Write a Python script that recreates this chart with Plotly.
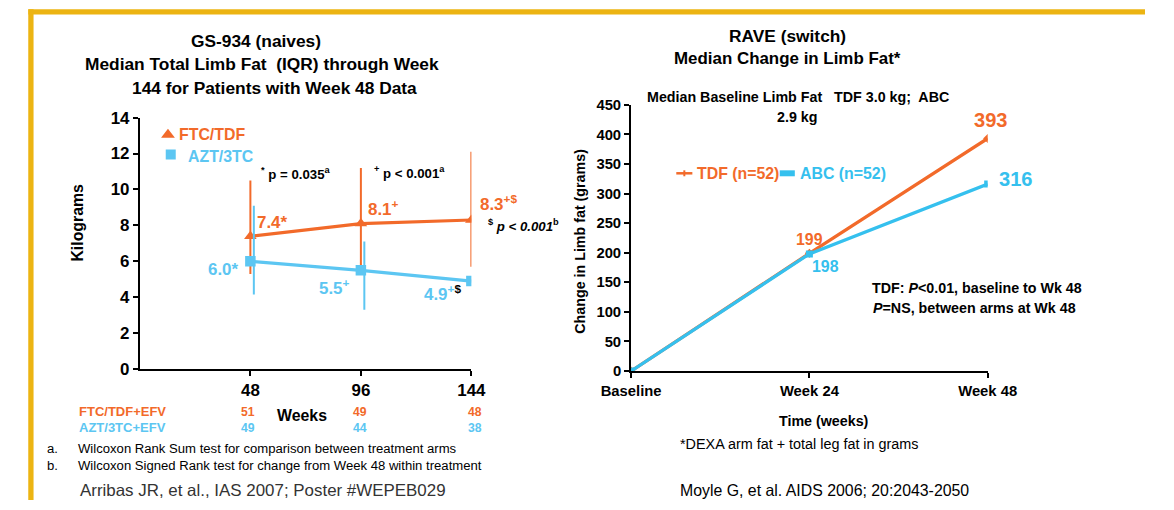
import plotly.graph_objects as go

# ---------------- data ----------------
weeks = [48, 96, 144]
ftc_tdf = [7.4, 8.1, 8.3]
ftc_tdf_q1 = [5.3, 5.25, 5.7]
ftc_tdf_q3 = [10.5, 11.2, 12.1]
azt_3tc = [6.0, 5.5, 4.9]
azt_3tc_q1 = [4.15, 3.3, 3.15]
azt_3tc_q3 = [9.1, 7.1, 7.85]
n_ftc = [51, 49, 48]
n_azt = [49, 44, 38]
left_value_labels_ftc = ["7.4*", "8.1<sup>+</sup>", "8.3<sup>+$</sup>"]
left_value_labels_azt = ["6.0*", "5.5<sup>+</sup>", "4.9<sup>+</sup>"]

rave_cats = ["Baseline", "Week 24", "Week 48"]
tdf = [0, 199, 393]
abc = [0, 198, 316]

W, H = 1174, 510
ORANGE = "#F26A2A"
BLUE_L = "#5CC6F2"
BLUE_R = "#35C0EE"
GOLD = "#ECB412"
FONT = "Liberation Sans"

# observed capture mapping (figure px -> picture px)
SX, OX = 0.9455, 30.6
SY, OY = 0.9686, 7.7
FS = 1 / SX  # font compensation


def fx(x):
    return (x - OX) / SX


def fy(y):
    return (y - OY) / SY


def px(x):
    return fx(x) / W


def py(y):
    return 1 - fy(y) / H


def f(s):
    return s * FS


fig = go.Figure()

# ---------------- left chart ----------------
fig.add_trace(go.Scatter(
    x=weeks, y=ftc_tdf, mode="lines+markers", xaxis="x", yaxis="y",
    line=dict(color=ORANGE, width=3.2),
    marker=dict(symbol="triangle-up", size=11, color=ORANGE),
    error_y=dict(type="data", symmetric=False,
                 array=[q - v for q, v in zip(ftc_tdf_q3, ftc_tdf)],
                 arrayminus=[v - q for q, v in zip(ftc_tdf_q1, ftc_tdf)],
                 color=ORANGE, thickness=2, width=0),
    showlegend=False, hoverinfo="skip"))
fig.add_trace(go.Scatter(
    x=[w + 1.5 for w in weeks], y=azt_3tc, mode="markers", xaxis="x", yaxis="y",
    marker=dict(size=1, color="rgba(0,0,0,0)"),
    error_y=dict(type="data", symmetric=False,
                 array=[q - v for q, v in zip(azt_3tc_q3, azt_3tc)],
                 arrayminus=[v - q for q, v in zip(azt_3tc_q1, azt_3tc)],
                 color=BLUE_L, thickness=2, width=0),
    showlegend=False, hoverinfo="skip"))
fig.add_trace(go.Scatter(
    x=weeks, y=azt_3tc, mode="lines+markers", xaxis="x", yaxis="y",
    line=dict(color=BLUE_L, width=3.2),
    marker=dict(symbol="square", size=10.5, color=BLUE_L),
    showlegend=False, hoverinfo="skip"))
# legend markers (left)
fig.add_trace(go.Scatter(
    x=[12.2], y=[13.05], mode="markers", xaxis="x", yaxis="y",
    marker=dict(symbol="triangle-up", size=12, color=ORANGE),
    showlegend=False, hoverinfo="skip"))
fig.add_trace(go.Scatter(
    x=[13.4], y=[11.95], mode="markers", xaxis="x", yaxis="y",
    marker=dict(symbol="square", size=10, color=BLUE_L),
    showlegend=False, hoverinfo="skip"))

# ---------------- right chart ----------------
fig.add_trace(go.Scatter(
    x=[0, 1, 2], y=tdf, mode="lines+markers", xaxis="x2", yaxis="y2",
    line=dict(color=ORANGE, width=3.2),
    marker=dict(symbol="diamond", size=7, color=ORANGE),
    showlegend=False, hoverinfo="skip"))
fig.add_trace(go.Scatter(
    x=[0, 1, 2], y=abc, mode="lines+markers", xaxis="x2", yaxis="y2",
    line=dict(color=BLUE_R, width=3.2),
    marker=dict(symbol="square", size=7, color=BLUE_R),
    showlegend=False, hoverinfo="skip"))

axis_common = dict(showgrid=False, zeroline=False, showline=True, linecolor="black",
                   linewidth=2, ticks="outside", tickcolor="black", ticklen=5, tickwidth=2)

fig.update_layout(
    width=W, height=H, margin=dict(l=0, r=0, t=0, b=0),
    paper_bgcolor="white", plot_bgcolor="white",
    font=dict(family=FONT, color="black"),
    xaxis=dict(domain=[px(140), px(470)], range=[0, 144], tickvals=weeks,
               ticktext=[f"<b>{w}</b>" for w in weeks], tickfont=dict(size=f(16)),
               anchor="y", **axis_common),
    yaxis=dict(domain=[py(370), py(117)], range=[0, 14], dtick=2,
               tickfont=dict(size=f(16)), tickprefix="<b>", ticksuffix="</b>",
               anchor="x", **axis_common),
    xaxis2=dict(domain=[px(629), px(984)], range=[0, 2], tickvals=[0, 1, 2],
                ticktext=[f"<b>{c}</b>" for c in rave_cats],
                tickfont=dict(size=f(14)), anchor="y2", **axis_common),
    yaxis2=dict(domain=[py(372), py(104)], range=[0, 450], dtick=50,
                tickfont=dict(size=f(14)), tickprefix="<b>", ticksuffix="</b>",
                anchor="x2", **axis_common),
)

ann = []


def A(x, y, text, size=14, color="black", xanchor="center", textangle=0):
    ann.append(dict(x=px(x), y=py(y), xref="paper", yref="paper", text=text,
                    showarrow=False, xanchor=xanchor, yanchor="middle",
                    font=dict(size=f(size), color=color, family=FONT), textangle=textangle))


# left titles
A(256, 40, "<b>GS-934 (naives)</b>", 16.4)
A(262, 63, "<b>Median Total Limb Fat  (IQR) through Week</b>", 16.4)
A(274, 87, "<b>144 for Patients with Week 48 Data</b>", 16.4)
# left legend
A(177, 134, "<b>FTC/TDF</b>", 15, ORANGE, "left")
A(186, 156, "<b>AZT/3TC</b>", 15, BLUE_L, "left")
# p-values
A(259, 173, "<b><sup>*</sup> p = 0.035<sup>a</sup></b>", 12.5, "black", "left")
A(371, 172, "<b><sup>+</sup> p &lt; 0.001<sup>a</sup></b>", 12.5, "black", "left")
A(485, 226, "<b><sup>$</sup> <i>p &lt; 0.001</i><sup>b</sup></b>", 12.5, "black", "left")
# value labels (left)
A(255, 222, f"<b>{left_value_labels_ftc[0]}</b>", 16, ORANGE, "left")
A(365, 208, f"<b>{left_value_labels_ftc[1]}</b>", 16, ORANGE, "left")
A(477, 203, f"<b>{left_value_labels_ftc[2]}</b>", 16, ORANGE, "left")
A(241, 270, f"<b>{left_value_labels_azt[0]}</b>", 16, BLUE_L, "right")
A(351, 287, f"<b>{left_value_labels_azt[1]}</b>", 16, BLUE_L, "right")
A(462, 293, f"<b>{left_value_labels_azt[2]}<sup><span style='color:black'>$</span></sup></b>", 16, BLUE_L, "right")
# axis titles
A(78, 223, "<b>Kilograms</b>", 15, "black", "center", -90)
A(301, 417, "<b>Weeks</b>", 15)
# n at risk
A(77, 413, "<b>FTC/TDF+EFV</b>", 12.3, ORANGE, "left")
A(77, 429, "<b>AZT/3TC+EFV</b>", 12.3, BLUE_L, "left")
for xx, a, b in zip([248, 359, 474], n_ftc, n_azt):
    A(xx, 413, f"<b>{a}</b>", 11.5, ORANGE)
    A(xx, 429, f"<b>{b}</b>", 11.5, BLUE_L)
# footnotes
A(46, 450, "a.", 12.4, "black", "left")
A(76, 450, "Wilcoxon Rank Sum test for comparison between treatment arms", 12.4, "black", "left")
A(46, 467, "b.", 12.4, "black", "left")
A(76, 467, "Wilcoxon Signed Rank test for change from Week 48 within treatment", 12.4, "black", "left")
A(78, 492, "Arribas JR, et al., IAS 2007; Poster #WEPEB029", 16, "#333333", "left")

# right titles
A(785, 35, "<b>RAVE (switch)</b>", 16.4)
A(785, 58, "<b>Median Change in Limb Fat*</b>", 16)
A(795, 96, "<b>Median Baseline Limb Fat   TDF 3.0 kg;  ABC</b>", 13.5)
A(794, 116, "<b>2.9 kg</b>", 13.5)
# right legend
A(693, 173, "<b>TDF (n=52)</b>", 15, ORANGE, "left")
A(795, 173, "<b>ABC (n=52)</b>", 15, BLUE_R, "left")
# right value labels
A(987, 119, f"<b>{tdf[2]}</b>", 19, ORANGE)
A(1012, 179, f"<b>{abc[2]}</b>", 19, BLUE_R)
A(807, 240, f"<b>{tdf[1]}</b>", 15, ORANGE)
A(823, 267, f"<b>{abc[1]}</b>", 15, BLUE_R)
A(867, 288, "<b>TDF: <i>P</i>&lt;0.01, baseline to Wk 48</b>", 13.5, "black", "left")
A(868, 309, "<b><i>P</i>=NS, between arms at Wk 48</b>", 13.5, "black", "left")
# right axis titles and notes
A(578, 241, "<b>Change in Limb fat (grams)</b>", 13.5, "black", "center", -90)
A(821, 422, "<b>Time (weeks)</b>", 13.5)
A(797, 445, "*DEXA arm fat + total leg fat in grams", 13.6)
A(822, 492, "Moyle G, et al. AIDS 2006; 20:2043-2050", 15)

fig.update_layout(annotations=ann)

shapes = [
    # right legend mini-lines with markers
    dict(type="line", xref="paper", yref="paper", x0=px(674), x1=px(690), y0=py(173), y1=py(173),
         line=dict(color=ORANGE, width=2.5)),
    dict(type="line", xref="paper", yref="paper", x0=px(682), x1=px(682), y0=py(170), y1=py(176),
         line=dict(color=ORANGE, width=2)),
    dict(type="rect", xref="paper", yref="paper", x0=px(777), x1=px(792), y0=py(176), y1=py(170),
         line=dict(width=0), fillcolor=BLUE_R),
    # gold frame
    dict(type="line", xref="paper", yref="paper", x0=px(31.5), x1=px(31.5), y0=py(8), y1=0,
         line=dict(color=GOLD, width=5.3)),
    dict(type="line", xref="paper", yref="paper", x0=px(29), x1=1, y0=py(10.5), y1=py(10.5),
         line=dict(color=GOLD, width=5.3)),
]
fig.update_layout(shapes=shapes)

fig.write_html("out.html")
